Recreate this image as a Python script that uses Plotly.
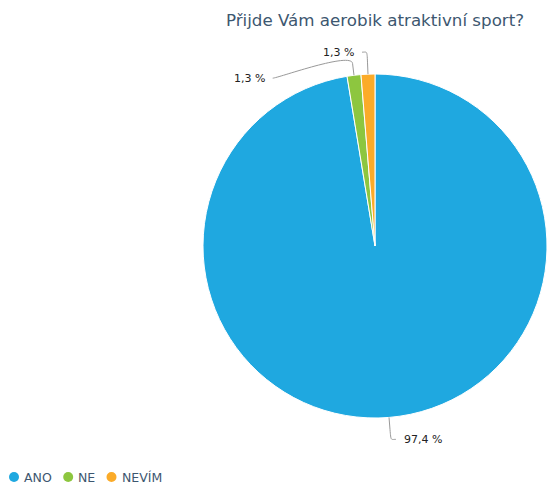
import math
import plotly.graph_objects as go

# ---- data ----
categories = ["ANO", "NE", "NEVÍM"]
counts = [75, 1, 1]
colors = ["#1fa8e0", "#8dc63f", "#fbab29"]
title_text = "Přijde Vám aerobik atraktivní sport?"

# ---- layout constants (pixels) ----
W, H = 547, 486
CX, CY, R = 375, 246, 172
FONT = "DejaVu Sans"
TEXT_COL = "#3d5770"

total = sum(counts)
pcts = [c / total * 100 for c in counts]
labels_txt = [f"{p:.1f}".replace(".", ",") + " %" for p in pcts]

def px(x):
    return x / W

def py(y):
    return 1 - y / H

fig = go.Figure()
fig.add_trace(go.Pie(
    labels=categories,
    values=counts,
    sort=False,
    direction="clockwise",
    rotation=0,
    textinfo="none",
    hoverinfo="label+percent",
    marker=dict(colors=colors, line=dict(color="white", width=1)),
    showlegend=False,
    domain=dict(x=[px(CX - R), px(CX + R)], y=[py(CY + R), py(CY - R)]),
))

# ---- data labels with connector lines, derived from the slice angles ----
LR = R + 22      # label radius
ER = R + 12      # connector break radius
shapes, annotations = [], []
cum = 0
items = []
for lab, p in zip(labels_txt, pcts):
    mid = (cum + p / 2) / 100 * 2 * math.pi
    cum += p
    sx, sy = math.sin(mid), -math.cos(mid)
    items.append(dict(lab=lab, sx=sx, sy=sy, ly=CY + LR * sy, left=sx < 0))

for side in (True, False):
    side_items = sorted([it for it in items if it["left"] == side], key=lambda d: d["ly"])
    last = -1e9
    for it in side_items:
        if it["ly"] < last + 26:
            it["ly"] = last + 26
        last = it["ly"]

def P(x, y):
    return f"{px(x)},{py(y)}"

for it in items:
    tx0, ty0 = CX + R * it["sx"], CY + R * it["sy"]       # touching slice
    bx, by = CX + ER * it["sx"], CY + ER * it["sy"]       # break point
    ly = it["ly"]
    dy = ly - CY
    circ = math.sqrt(max(LR ** 2 - dy ** 2, 0))
    if it["left"]:
        lx = min(CX + LR * it["sx"], CX - circ)
        cx_end, c1x = lx - 5, lx
        tx, anchor = lx - 11, "right"
    else:
        lx = max(CX + LR * it["sx"], CX + circ)
        cx_end, c1x = lx + 5, lx
        tx, anchor = lx + 11, "left"
    path = (f"M {P(cx_end, ly)} C {P(c1x, ly)} {P(2 * bx - tx0, 2 * by - ty0)} {P(bx, by)} "
            f"L {P(tx0, ty0)}")
    shapes.append(dict(type="path", xref="paper", yref="paper", path=path,
                       line=dict(color="#999999", width=1)))
    annotations.append(dict(x=px(tx), y=py(ly), xref="paper", yref="paper",
                            text=it["lab"], showarrow=False, xanchor=anchor,
                            yanchor="middle",
                            font=dict(family=FONT, size=11, color="#222222")))

# ---- legend (round markers), laid out left to right ----
CHAR_W = {"A": 9.0, "N": 9.9, "O": 10.3, "E": 8.4, "V": 9.0, "Í": 4.0, "M": 11.4}
LEG_Y, LEG_X0, MR = 477, 14, 5
x = LEG_X0
for name, col in zip(categories, colors):
    shapes.append(dict(type="circle", xref="paper", yref="paper",
                       x0=px(x - MR), x1=px(x + MR), y0=py(LEG_Y + MR), y1=py(LEG_Y - MR),
                       fillcolor=col, line=dict(width=0)))
    annotations.append(dict(x=px(x + 8), y=py(LEG_Y), xref="paper", yref="paper",
                            text=name, showarrow=False, xanchor="left", yanchor="middle",
                            font=dict(family=FONT, size=12.5, color=TEXT_COL)))
    tw = sum(CHAR_W.get(ch, 8) for ch in name)
    x += 8 + tw + 17

fig.update_layout(
    width=W, height=H,
    margin=dict(l=0, r=0, t=0, b=0),
    paper_bgcolor="white", plot_bgcolor="white",
    showlegend=False,
    title=dict(text=title_text, x=px(CX), xanchor="center", y=py(20), yanchor="middle",
               font=dict(family=FONT, size=16.7, color=TEXT_COL)),
    shapes=shapes,
    annotations=annotations,
)

fig.write_html("out.html", config={"displayModeBar": False},
               post_script="document.body.style.margin='0';")
